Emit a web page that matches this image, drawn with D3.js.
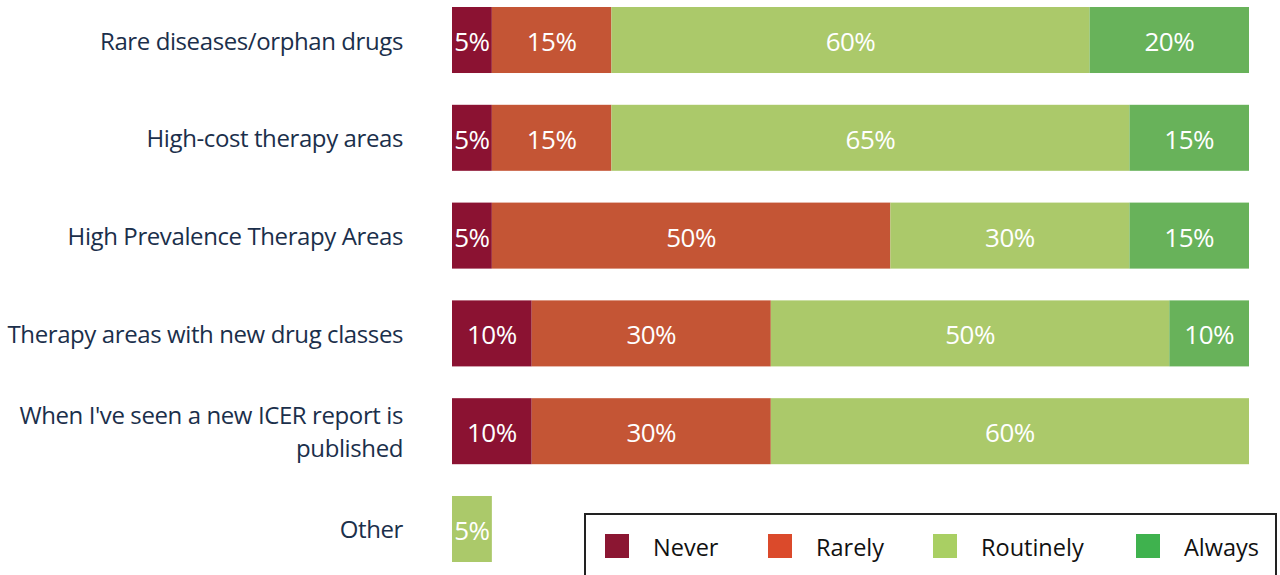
<!DOCTYPE html>
<html><head><meta charset="utf-8">
<script src="https://cdn.jsdelivr.net/npm/d3@7"></script>
<style>html,body{margin:0;padding:0;background:#fff;}svg{display:block;}</style>
</head><body>
<svg id="chart" width="1280" height="575"></svg>
<script>
const categories = [
  ["Rare diseases/orphan drugs"],
  ["High-cost therapy areas"],
  ["High Prevalence Therapy Areas"],
  ["Therapy areas with new drug classes"],
  ["When I've seen a new ICER report is", "published"],
  ["Other"]
];
const seriesNames = ["Never", "Rarely", "Routinely", "Always"];
const never     = [5, 5, 5, 10, 10, 0];
const rarely    = [15, 15, 50, 30, 30, 0];
const routinely = [60, 65, 30, 50, 60, 5];
const always    = [20, 15, 15, 10, 0, 0];
const barColors = ["#8b1232", "#c45535", "#abc96a", "#68b25a"];
const legendColors = ["#8b1632", "#db4a2b", "#a9cf63", "#3fb24e"];

const svg = d3.select("#chart");
const font = "'Open Sans', sans-serif";
const seriesVals = [never, rarely, routinely, always];
const rows = categories.map((c, i) => {
  const r = {key: i};
  seriesNames.forEach((s, j) => r[s] = seriesVals[j][i]);
  return r;
});
const stack = d3.stack().keys(seriesNames)(rows);

const x = d3.scaleLinear().domain([0, 100]).range([452, 1249]);
const y = d3.scaleBand().domain(d3.range(categories.length)).range([7, 562]).paddingInner(0.325).paddingOuter(0);

const g = svg.append("g");
stack.forEach((layer, j) => {
  const lg = g.append("g").attr("fill", barColors[j]);
  layer.forEach((d, i) => {
    const w = x(d[1]) - x(d[0]);
    if (w <= 0) return;
    lg.append("rect").attr("x", x(d[0])).attr("y", y(i)).attr("width", w).attr("height", y.bandwidth());
    g.append("text").attr("x", (x(d[0]) + x(d[1])) / 2).attr("y", y(i) + y.bandwidth() / 2 + 1)
      .attr("text-anchor", "middle").attr("dominant-baseline", "central")
      .attr("fill", "#fff").attr("font-family", font).attr("font-size", 26)
      .attr("letter-spacing", -0.5)
      .text((d[1] - d[0]) + "%");
  });
});

// category labels
categories.forEach((lines, i) => {
  const cy = y(i) + y.bandwidth() / 2;
  const lh = 33;
  lines.forEach((ln, k) => {
    svg.append("text").attr("x", 403).attr("y", cy + (k - (lines.length - 1) / 2) * lh)
      .attr("text-anchor", "end").attr("dominant-baseline", "central")
      .attr("fill", "#1b2f4b").attr("font-family", font).attr("font-size", 24)
      .attr("letter-spacing", -0.4)
      .text(ln);
  });
});

// legend
const leg = svg.append("g");
leg.append("rect").attr("x", 585).attr("y", 514).attr("width", 691).attr("height", 80)
  .attr("fill", "#fff").attr("stroke", "#222").attr("stroke-width", 2);
const legX = [605, 768, 933, 1136];
seriesNames.forEach((s, j) => {
  leg.append("rect").attr("x", legX[j]).attr("y", 534).attr("width", 24).attr("height", 24).attr("fill", legendColors[j]);
  leg.append("text").attr("x", legX[j] + 48).attr("y", 547).attr("dominant-baseline", "central")
    .attr("fill", "#111").attr("font-family", font).attr("font-size", 23.5).text(s);
});
</script>
</body></html>
